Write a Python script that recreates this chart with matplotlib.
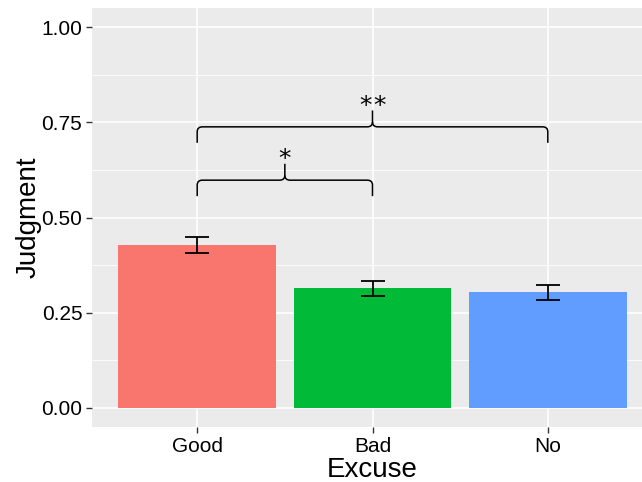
import numpy as np
import matplotlib.pyplot as plt
from matplotlib.path import Path
from matplotlib.patches import PathPatch

# --- data ---
excuses = ['Good', 'Bad', 'No']
judgment = [0.427, 0.314, 0.304]
err_low = [0.406, 0.293, 0.284]
err_high = [0.450, 0.334, 0.323]
bar_colors = ['#F8766D', '#00BA38', '#619CFF']

# comparisons: (from index, to index, bracket base, label)
comparisons = [(0, 1, 0.556, '*'), (0, 2, 0.696, '**')]

plt.rcParams['font.family'] = ['Liberation Sans', 'DejaVu Sans']

W, H = 642, 482
fig = plt.figure(figsize=(W / 100, H / 100), dpi=100)
# panel runs off the right edge, like the original
ax = fig.add_axes([92 / W, (H - 427) / H, (653 - 92) / W, (427 - 8) / H])
ax.set_facecolor('#EBEBEB')

x = np.arange(1, len(excuses) + 1)
ax.bar(x, judgment, width=0.9, color=bar_colors, zorder=2)
yerr = [np.array(judgment) - np.array(err_low), np.array(err_high) - np.array(judgment)]
ax.errorbar(x, judgment, yerr=yerr, fmt='none', ecolor='black',
            elinewidth=1.3, capsize=8.5, capthick=1.3, zorder=3)


def brace(ax, x1, x2, y0, label):
    h = 0.042   # end legs
    t = 0.043   # tip above the bar
    rx, ry = 0.03, 0.013
    xm = (x1 + x2) / 2
    yh = y0 + h
    verts = [
        (x1, y0), (x1, yh - ry),
        (x1, yh), (x1 + rx, yh),
        (xm - rx, yh),
        (xm, yh), (xm, yh + ry),
        (xm, yh + t),
    ]
    codes = [Path.MOVETO, Path.LINETO, Path.CURVE3, Path.CURVE3, Path.LINETO,
             Path.CURVE3, Path.CURVE3, Path.LINETO]
    ax.add_patch(PathPatch(Path(verts, codes), fill=False, lw=1.1, color='black', zorder=4))
    verts2 = [
        (x2, y0), (x2, yh - ry),
        (x2, yh), (x2 - rx, yh),
        (xm + rx, yh),
        (xm, yh), (xm, yh + ry),
    ]
    codes2 = [Path.MOVETO, Path.LINETO, Path.CURVE3, Path.CURVE3, Path.LINETO,
              Path.CURVE3, Path.CURVE3]
    ax.add_patch(PathPatch(Path(verts2, codes2), fill=False, lw=1.1, color='black', zorder=4))
    # stars, spaced out a little like the original
    n = len(label)
    step = 0.078
    for k in range(n):
        ax.text(xm + (k - (n - 1) / 2) * step, yh + t + 0.012, '*', ha='center',
                va='center', fontsize=18, family='DejaVu Sans', zorder=5)


for i, j, y0, lab in comparisons:
    brace(ax, x[i], x[j], y0, lab)

ax.set_xlim(0.4, 3.6)
ax.set_ylim(-0.05, 1.05)
ax.set_xticks(x)
ax.set_xticklabels(excuses)
ax.set_yticks([0, 0.25, 0.5, 0.75, 1.0])
ax.set_yticklabels(['0.00', '0.25', '0.50', '0.75', '1.00'])
ax.set_yticks([0.125, 0.375, 0.625, 0.875], minor=True)

ax.grid(which='major', color='white', lw=1.2, zorder=0)
ax.grid(which='minor', axis='y', color='white', lw=0.6, zorder=0)
ax.set_axisbelow(True)
for s in ax.spines.values():
    s.set_visible(False)
ax.tick_params(which='major', length=4, width=1, color='#333333',
               labelsize=15, labelcolor='black', pad=3)
ax.tick_params(which='minor', length=0)

ax.set_xlabel('Excuse', fontsize=20, labelpad=1)
ax.set_ylabel('Judgment', fontsize=20, labelpad=0)

fig.savefig('out.png', dpi=100)
